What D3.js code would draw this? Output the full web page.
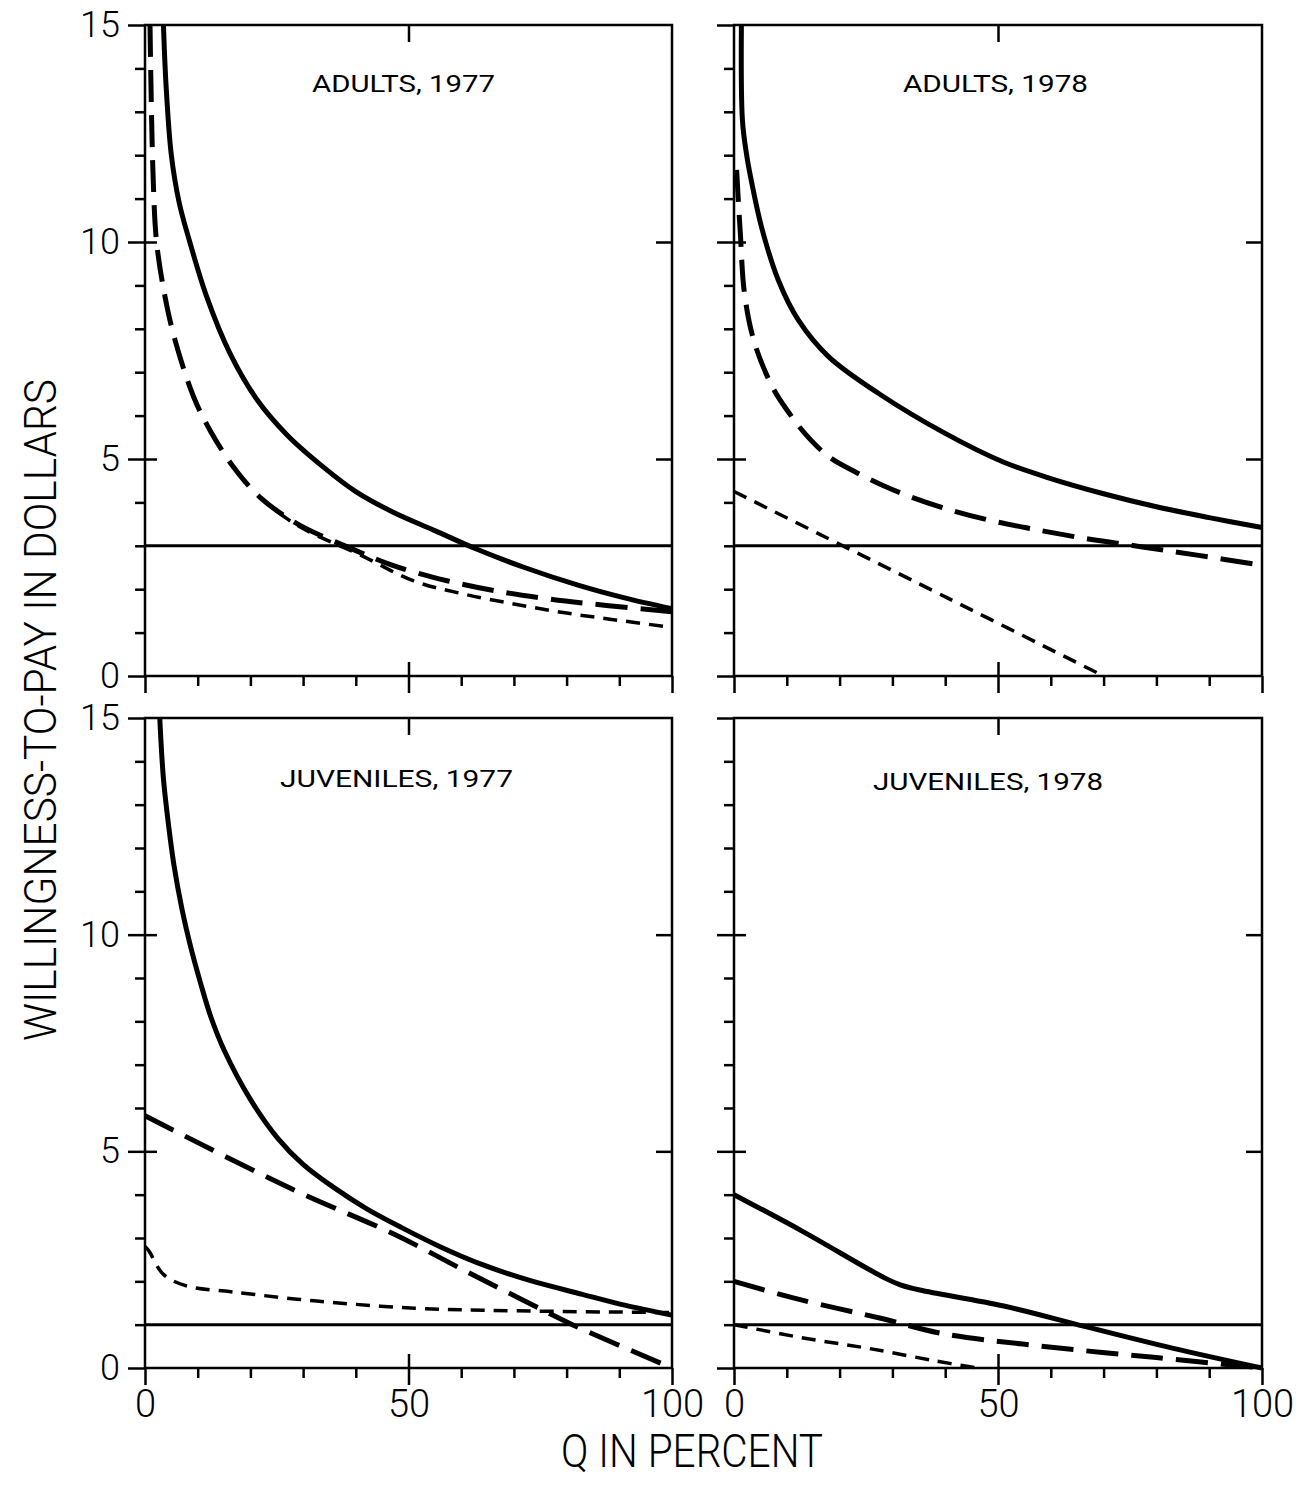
<!DOCTYPE html>
<html lang="en">
<head>
    <meta charset="UTF-8">
    <title>Willingness to pay</title>
    <script src="https://cdn.jsdelivr.net/npm/d3@7"></script>
    <style>
        body { margin: 0; background: #fff; }
        svg { display: block; }
        text { font-family: "Roboto", "DejaVu Sans", sans-serif; font-weight: 300; fill: #000; }
        .tick line { stroke: #000; stroke-width: 2.5; }
    </style>
</head>
<body>
<svg width="1296" height="1490"></svg>
<script>
    // panel titles
    var titles = ["ADULTS, 1977", "ADULTS, 1978", "JUVENILES, 1977", "JUVENILES, 1978"];

    // tick values
    var yMajor = [0, 5, 10, 15],
        yMinor = [1, 2, 3, 4, 6, 7, 8, 9, 11, 12, 13, 14],
        xMajor = [0, 50, 100],
        xMinor = [10, 20, 30, 40, 60, 70, 80, 90];

    // reference line (price) per row
    var refLine = [3, 1];

    // adults 1977
    var qA77Solid = [3.5, 4.0, 5.0, 6.5, 8.5, 11.7, 16.1, 21.3, 27, 33.8, 40, 47, 55, 63, 72, 82, 91, 100];
    var wA77Solid = [15, 13.6, 12.0, 10.9, 10, 8.74, 7.44, 6.36, 5.55, 4.82, 4.25, 3.78, 3.35, 2.92, 2.5, 2.1, 1.8, 1.55];
    var qA77Long = [0.95, 1.5, 2.2, 3.8, 5.7, 9.2, 12.3, 17, 22, 29, 38.5, 47, 57.5, 67, 77, 88, 100];
    var wA77Long = [15, 11.66, 10, 8.74, 7.74, 6.44, 5.67, 4.78, 4.1, 3.5, 2.97, 2.55, 2.19, 1.95, 1.77, 1.62, 1.48];
    var qA77Short = [22, 27, 31, 41, 51, 60, 70, 80, 90, 100];
    var wA77Short = [4.1, 3.62, 3.33, 2.78, 2.19, 1.9, 1.66, 1.45, 1.28, 1.12];

    // adults 1978
    var qA78Solid = [1.4, 1.6, 2.4, 3.3, 5.2, 8.4, 12.2, 17.9, 27.4, 40, 51, 60, 70, 80, 90, 100];
    var wA78Solid = [15, 12.8, 12.0, 11.4, 10.35, 9.12, 8.2, 7.36, 6.51, 5.59, 4.93, 4.55, 4.2, 3.9, 3.65, 3.42];
    var qA78Long = [0.5, 0.8, 1.2, 2.0, 3.9, 7.4, 10.2, 13.7, 18, 23, 28, 33, 40, 48, 56, 66, 77, 88, 100];
    var wA78Long = [11.66, 11.0, 10.2, 8.8, 7.67, 6.63, 6.1, 5.55, 5.05, 4.7, 4.4, 4.15, 3.86, 3.6, 3.4, 3.18, 2.98, 2.78, 2.55];
    var qA78Short = [0, 40.4, 70];
    var wA78Short = [4.25, 1.8, 0];

    // juveniles 1977
    var qJ77Solid = [2.8, 3.5, 4.5, 5.5, 7, 8.5, 10.5, 12.5, 15, 20, 25.2, 30, 36, 42, 48.7, 56, 63.9, 73, 83, 91, 100];
    var wJ77Solid = [15, 13.6, 12.5, 11.6, 10.6, 9.8, 8.9, 8.1, 7.34, 6.2, 5.3, 4.7, 4.15, 3.68, 3.24, 2.8, 2.39, 2.02, 1.70, 1.45, 1.22];
    var qJ77Long = [0, 27.7, 47.4, 61.4, 71.2, 81.1, 100];
    var wJ77Long = [5.82, 4.14, 3.08, 2.2, 1.6, 1.0, 0];
    var qJ77Short = [0, 0.7, 3.5, 8, 16.3, 32.1, 51.2, 70.3, 100];
    var wJ77Short = [2.8, 2.71, 2.16, 1.89, 1.76, 1.55, 1.38, 1.32, 1.28];

    // juveniles 1978
    var qJ78Solid = [0, 12.9, 28.5, 31.5, 35.2, 51.1, 66.4, 83, 100];
    var wJ78Solid = [4.0, 3.16, 2.08, 1.92, 1.80, 1.43, 0.96, 0.46, 0.0];
    var qJ78Long = [0, 11.8, 28.4, 39.2, 57.7, 80, 100];
    var wJ78Long = [2.0, 1.6, 1.13, 0.8, 0.51, 0.24, 0.0];
    var qJ78Short = [0, 12.8, 25.6, 38.3, 46];
    var wJ78Short = [1.0, 0.70, 0.45, 0.16, 0.0];

    function pts(q, w) {
        return q.map(function (d, i) { return [d, w[i]]; });
    }

    var panels = [
        {col: 0, row: 0, title: titles[0], series: [pts(qA77Solid, wA77Solid), pts(qA77Long, wA77Long), pts(qA77Short, wA77Short)]},
        {col: 1, row: 0, title: titles[1], series: [pts(qA78Solid, wA78Solid), pts(qA78Long, wA78Long), pts(qA78Short, wA78Short)]},
        {col: 0, row: 1, title: titles[2], series: [pts(qJ77Solid, wJ77Solid), pts(qJ77Long, wJ77Long), pts(qJ77Short, wJ77Short)]},
        {col: 1, row: 1, title: titles[3], series: [pts(qJ78Solid, wJ78Solid), pts(qJ78Long, wJ78Long), pts(qJ78Short, wJ78Short)]}
    ];

    // layout
    var colX = [[145, 672], [734, 1262]],
        rowY = [[676, 25], [1368, 718]],
        titlePos = [[[312, 92, 183], [903, 92, 185]], [[280, 787, 233], [873, 790, 230]]];

    var lineStyles = [
        {width: 5, dash: null},
        {width: 5, dash: "32,13"},
        {width: 3.5, dash: "14,9"}
    ];

    var svg = d3.select("svg");
    svg.append("rect").attr("width", 1296).attr("height", 1490).attr("fill", "#fff");

    function axisG(axis, tx, ty) {
        var g = svg.append("g").attr("transform", "translate(" + tx + "," + ty + ")").call(axis);
        g.select(".domain").remove();
        return g;
    }

    panels.forEach(function (p) {
        var x = d3.scaleLinear().domain([0, 100]).range(colX[p.col]);
        var y = d3.scaleLinear().domain([0, 15]).range(rowY[p.row]);
        var x0 = colX[p.col][0], x1 = colX[p.col][1],
            y0 = rowY[p.row][0], y1 = rowY[p.row][1];

        // left edge ticks
        axisG(d3.axisLeft(y).tickValues(yMinor).tickSize(10).tickFormat(""), x0, 0);
        axisG(d3.axisLeft(y).tickValues(yMajor).tickSize(17).tickFormat(""), x0, 0);
        axisG(d3.axisRight(y).tickValues([5, 10]).tickSize(12).tickFormat(""), x0, 0);
        // right edge ticks
        axisG(d3.axisLeft(y).tickValues([5, 10]).tickSize(16).tickFormat(""), x1, 0);
        // bottom ticks
        axisG(d3.axisBottom(x).tickValues(xMinor).tickSize(10).tickFormat(""), 0, y0);
        axisG(d3.axisBottom(x).tickValues(xMajor).tickSize(17).tickFormat(""), 0, y0);
        axisG(d3.axisTop(x).tickValues([50]).tickSize(14).tickFormat(""), 0, y0);
        // top tick
        axisG(d3.axisBottom(x).tickValues([50]).tickSize(17).tickFormat(""), 0, y1);

        // frame
        svg.append("rect")
            .attr("x", x0).attr("y", y1)
            .attr("width", x1 - x0).attr("height", y0 - y1)
            .attr("fill", "none")
            .attr("stroke", "#000")
            .attr("stroke-width", 2.5);

        // tick labels
        if (p.col === 0) {
            var yl = axisG(d3.axisLeft(y).tickValues(yMajor).tickSize(0).tickPadding(25), x0, 0);
            yl.selectAll("text").style("font-size", "36px").style("font-family", null);
        }
        if (p.row === 1) {
            var xl = axisG(d3.axisBottom(x).tickValues(xMajor).tickSize(0).tickPadding(22), 0, y0);
            xl.selectAll("text").style("font-size", "38px").style("font-family", null);
        }

        // reference line
        svg.append("line")
            .attr("x1", x(0)).attr("x2", x(100))
            .attr("y1", y(refLine[p.row])).attr("y2", y(refLine[p.row]))
            .attr("stroke", "#000")
            .attr("stroke-width", 3);

        // curves
        var line = d3.line()
            .x(function (d) { return x(d[0]); })
            .y(function (d) { return y(d[1]); })
            .curve(d3.curveCatmullRom.alpha(0.5));

        p.series.forEach(function (s, i) {
            svg.append("path")
                .attr("d", line(s))
                .attr("fill", "none")
                .attr("stroke", "#000")
                .attr("stroke-width", lineStyles[i].width)
                .attr("stroke-dasharray", lineStyles[i].dash)
                .attr("stroke-linejoin", "round");
        });

        // title
        var tp = titlePos[p.row][p.col];
        svg.append("text")
            .attr("x", tp[0]).attr("y", tp[1])
            .attr("textLength", tp[2])
            .attr("lengthAdjust", "spacingAndGlyphs")
            .style("font-size", "24px")
            .style("font-weight", 400)
            .text(p.title);
    });

    // axis titles
    svg.append("text")
        .attr("transform", "translate(56,710) rotate(-90)")
        .attr("text-anchor", "middle")
        .attr("textLength", 662)
        .attr("lengthAdjust", "spacingAndGlyphs")
        .style("font-size", "44px")
        .text("WILLINGNESS-TO-PAY IN DOLLARS");

    svg.append("text")
        .attr("x", 692).attr("y", 1467)
        .attr("text-anchor", "middle")
        .attr("textLength", 262)
        .attr("lengthAdjust", "spacingAndGlyphs")
        .style("font-size", "46px")
        .text("Q IN PERCENT");
</script>
</body>
</html>
